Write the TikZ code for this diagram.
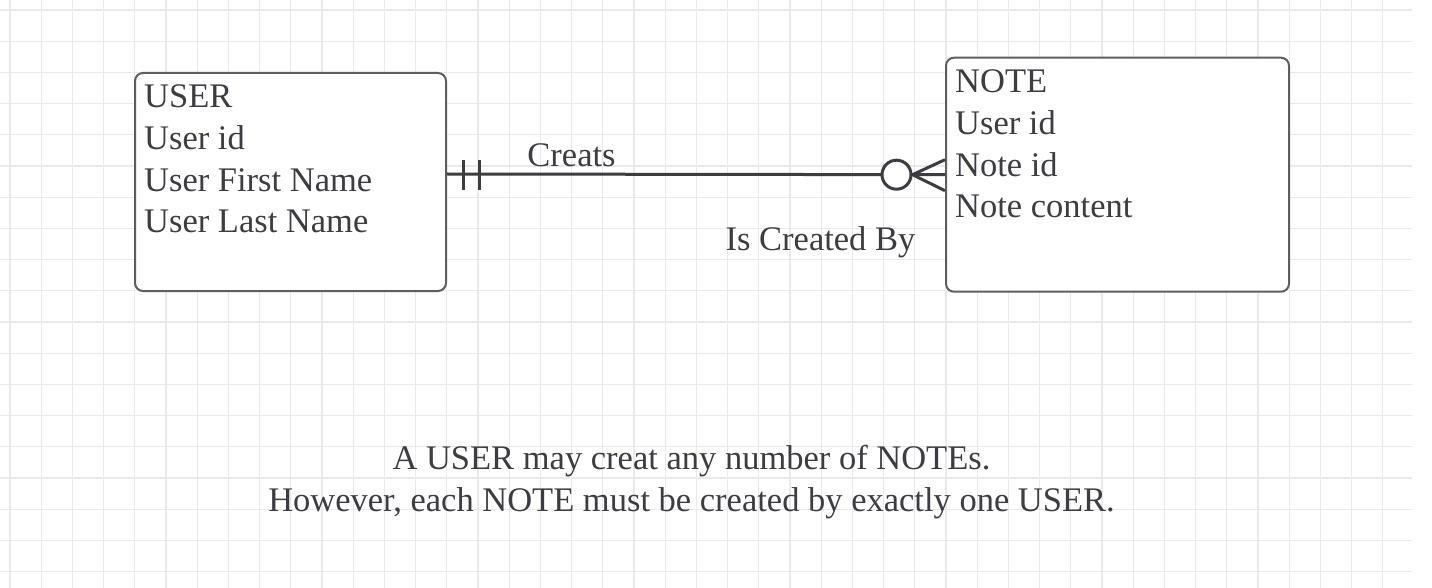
\documentclass[tikz,border=0pt]{standalone}
\usepackage{fontspec}
\setmainfont{Liberation Serif}
\usetikzlibrary{calc}
\definecolor{inkgray}{HTML}{3C3D42}
\definecolor{boxgray}{HTML}{5E5E62}
\definecolor{gridgray}{HTML}{EAEAEA}

\begin{document}
\begin{tikzpicture}[x=1pt, y=-1pt,
  every node/.style={text=inkgray, font=\fontsize{34.5}{41.7}\selectfont, inner sep=0pt},
  entity/.style={rectangle, draw=boxgray, line width=2pt, rounded corners=8pt, fill=white},
  attrs/.style={anchor=base west, align=left},
  rel/.style={draw=inkgray, line width=3pt}]
\useasboundingbox (0,0) rectangle (1432,588);
\fill[white] (0,0) rectangle (1432,588);
% grid
\foreach \i in {0,...,44} \draw[gridgray, line width=1.2pt] (10+31.2*\i,0) -- (10+31.2*\i,588);
\foreach \j in {0,...,18} \draw[gridgray, line width=1.2pt] (0,10+31.2*\j) -- (1412,10+31.2*\j);

% entities (base = last line)
\node[entity, minimum width=311pt, minimum height=218pt] (user) at (290.5,182) {};
\node[attrs] (userattr) at (144,233) {USER\\User id\\User First Name\\User Last Name};
\node[entity, minimum width=343pt, minimum height=234pt] (note) at (1117.5,174.7) {};
\node[attrs] (noteattr) at (955,218) {NOTE\\User id\\Note id\\Note content};

% relationship
\coordinate (a) at ([yshift=8pt]user.east);
\coordinate (b) at (note.west);
\draw[rel] (a) -- (b);
% exactly one
\draw[rel] ($(a)+(16,-14)$) -- ($(a)+(16,16)$);
\draw[rel] ($(a)+(32,-14)$) -- ($(a)+(32,16)$);
% zero or many
\node[circle, draw=inkgray, line width=3pt, minimum size=29pt, fill=white] (zero) at ($(b)+(-48.5,0)$) {};
\draw[rel] (zero.east) -- ($(b)+(0,-15)$);
\draw[rel] (zero.east) -- ($(b)+(0,16)$);

\node[anchor=base] (creats) at (571.5,167) {Creats};
\node[anchor=base] (createdby) at (820.5,251) {Is Created By};

\node[align=center, anchor=base] (rule) at (691.5,511) {A USER may creat any number of NOTEs.\\However, each NOTE must be created by exactly one USER.};
\end{tikzpicture}
\end{document}
